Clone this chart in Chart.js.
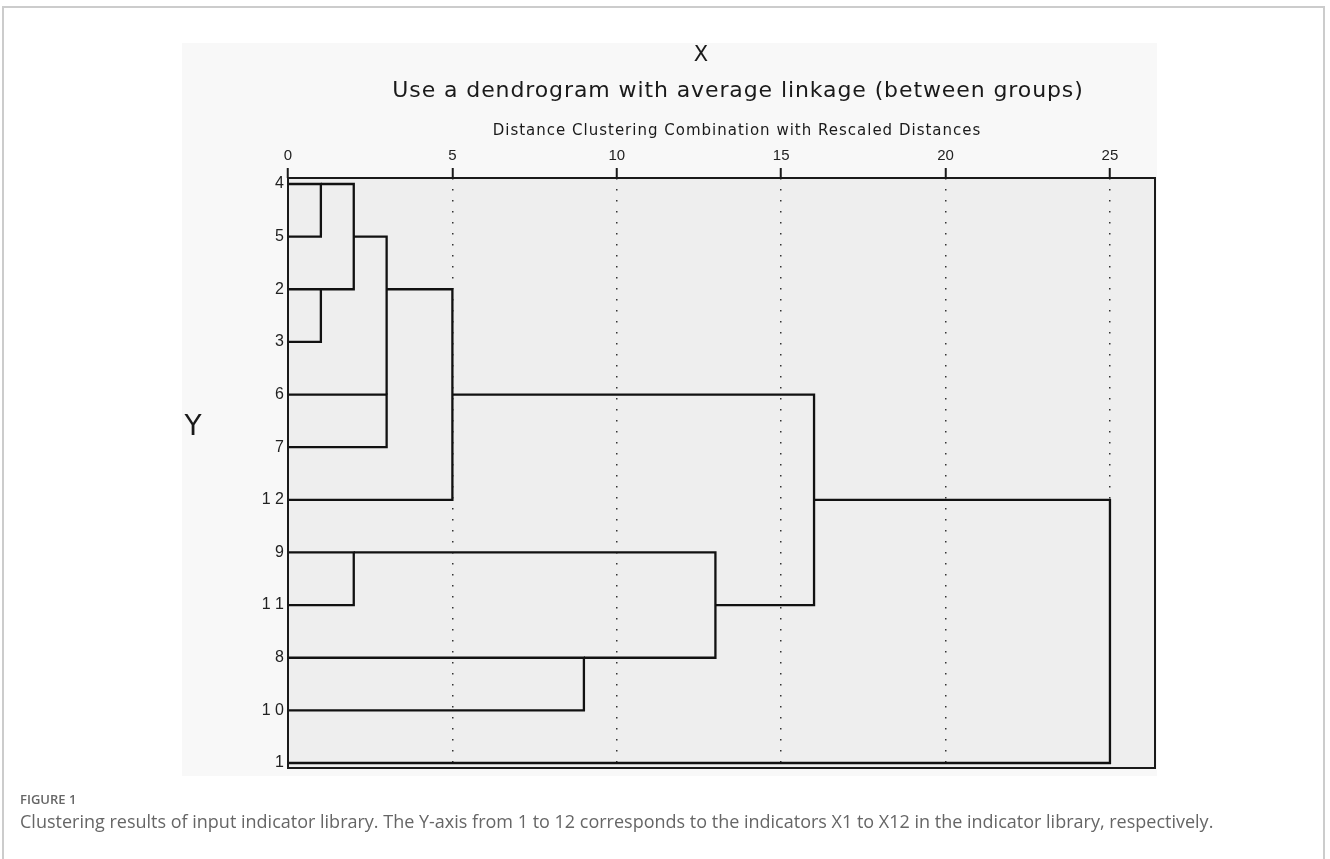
<!DOCTYPE html>
<html>
<head>
<meta charset="utf-8">
<script src="https://cdn.jsdelivr.net/npm/chart.js@4/dist/chart.umd.min.js"></script>
<style>
  html, body { margin:0; padding:0; background:#ffffff; width:1330px; height:859px; overflow:hidden; }
  #frame { position:absolute; left:2px; top:6px; width:1323px; height:870px; border:2px solid #cccccc; box-sizing:border-box; }
  #scan { position:absolute; left:182px; top:43px; width:975px; height:733px; background:#f8f8f8; }
  #wrap { position:absolute; left:0; top:0; width:1330px; height:859px; }
  .t { position:absolute; font-family:"DejaVu Sans", "Liberation Sans", sans-serif; color:#1a1a1a; white-space:nowrap; transform:translate(-50%,-50%); }
  #cap1 { position:absolute; left:20px; top:790px; font-family:"Open Sans", "Noto Sans", sans-serif; font-size:13px; color:#666; font-weight:600; }
  #cap2 { position:absolute; left:20px; top:809px; font-family:"Open Sans", "Noto Sans", sans-serif; font-size:18px; color:#666; font-weight:400; }
</style>
</head>
<body>
<div id="frame"></div>
<div id="scan"></div>
<div id="wrap"><canvas id="c" width="1330" height="859"></canvas></div>
<div class="t" style="left:701px; top:54px; font-size:21px;">X</div>
<div class="t" style="left:738px; top:89px; font-size:22px; letter-spacing:0.9px;">Use a dendrogram with average linkage (between groups)</div>
<div class="t" style="left:737px; top:130px; font-size:15px; letter-spacing:1px;">Distance Clustering Combination with Rescaled Distances</div>
<div class="t" style="left:193px; top:425px; font-size:28px;">Y</div>
<div id="cap1">FIGURE 1</div>
<div id="cap2">Clustering results of input indicator library. The Y-axis from 1 to 12 corresponds to the indicators X1 to X12 in the indicator library, respectively.</div>
<script>
// Leaves in dendrogram order (top to bottom)
const leafLabels = ['4','5','2','3','6','7','12','9','11','8','10','1'];
// Rescaled distance axis ticks
const xTickValues = [0,5,10,15,20,25];
// Merges: each drawn as a bracket from (upperStart, upperLeaf) -> (height, upperLeaf) -> (height, lowerLeaf) -> (lowerStart, lowerLeaf)
const mergeHeight = [1, 1, 2, 3, 3, 5, 2, 9, 13, 16, 25];
const upperLeaf   = ['4','2','4','6','5','2','9','8','9','6','12'];
const upperStart  = [0, 0, 1, 0, 2, 3, 0, 0, 2, 5, 16];
const lowerLeaf   = ['5','3','2','7','6','12','11','10','8','11','1'];
const lowerStart  = [0, 0, 1, 0, 3, 0, 0, 0, 9, 13, 0];

const rowOf = l => leafLabels.indexOf(l);
const datasets = mergeHeight.map((h, i) => ({
  data: [
    {x: upperStart[i], y: rowOf(upperLeaf[i])},
    {x: h, y: rowOf(upperLeaf[i])},
    {x: h, y: rowOf(lowerLeaf[i])},
    {x: lowerStart[i], y: rowOf(lowerLeaf[i])}
  ],
  showLine: true,
  borderColor: '#111111',
  borderWidth: 2.3,
  pointRadius: 0,
  tension: 0,
  fill: false
}));

const framePlugin = {
  id: 'frame',
  beforeDraw(chart) {
    const {ctx, chartArea: a} = chart;
    ctx.save();
    ctx.fillStyle = '#eeeeee';
    ctx.fillRect(a.left, a.top, a.right - a.left, a.bottom - a.top);
    ctx.restore();
  },
  afterDatasetsDraw(chart) {
    const {ctx, chartArea: a} = chart;
    ctx.save();
    ctx.strokeStyle = '#1a1a1a';
    ctx.lineWidth = 2;
    ctx.strokeRect(a.left, a.top, a.right - a.left, a.bottom - a.top);
    ctx.restore();
  }
};

new Chart(document.getElementById('c'), {
  type: 'scatter',
  data: { datasets },
  plugins: [framePlugin],
  options: {
    responsive: false,
    animation: false,
    layout: { padding: { left: 188, top: 138, right: 175, bottom: 91 } },
    plugins: { legend: { display: false }, tooltip: { enabled: false } },
    scales: {
      x: {
        type: 'linear',
        position: 'top',
        min: 0,
        max: 26.37,
        afterBuildTicks: s => { s.ticks = xTickValues.map(v => ({value: v})); },
        afterFit: s => { s.height = 40; },
        ticks: { color: '#222', font: { family: 'Liberation Sans', size: 15 }, padding: 3, maxRotation: 0 },
        grid: {
          color: c => (c.tick && c.tick.value === 0) ? 'rgba(0,0,0,0)' : '#333',
          lineWidth: 1.5,
          tickColor: '#1a1a1a',
          tickWidth: 2,
          tickLength: 10,
          drawTicks: true
        },
        border: { display: false, dash: [1.5, 9.5] }
      },
      y: {
        type: 'linear',
        reverse: true,
        min: -0.114,
        max: 11.095,
        afterBuildTicks: s => { s.ticks = leafLabels.map((_, i) => ({value: i})); },
        afterFit: s => { s.width = 100; },
        ticks: {
          color: '#222',
          font: { family: 'Liberation Sans', size: 16 },
          padding: 4,
          callback: v => leafLabels[v].split('').join(' ')
        },
        grid: { display: false, drawTicks: false },
        border: { display: false }
      }
    }
  }
});
</script>
</body>
</html>
